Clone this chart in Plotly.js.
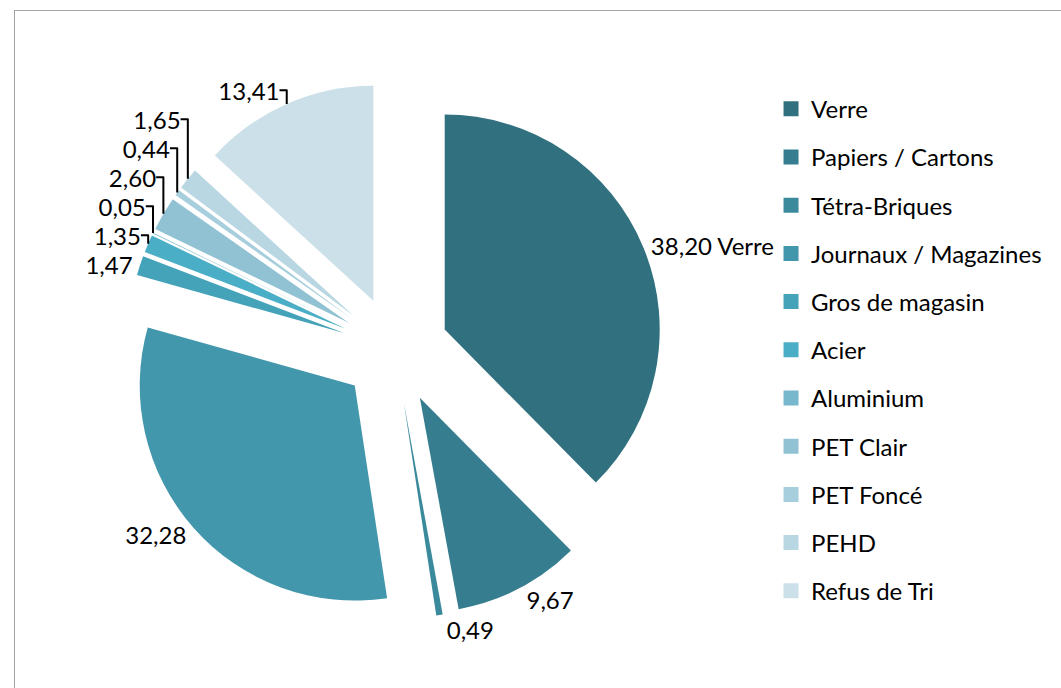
<!DOCTYPE html>
<html>
<head>
<meta charset="utf-8">
<script src="https://cdn.plot.ly/plotly-3.0.1.min.js"></script>
<style>
  html, body { margin: 0; padding: 0; background: #ffffff; }
  #wrap { position: relative; width: 1061px; height: 688px; overflow: hidden; }
  #frame { position: absolute; left: 14px; top: 10px; width: 1100px; height: 700px;
           border: 1.5px solid #A3A3A3; box-sizing: border-box; }
  #chart { position: absolute; left: 0; top: 0; width: 1061px; height: 688px; }
</style>
</head>
<body>
<div id="wrap">
  <div id="frame"></div>
  <div id="chart"></div>
</div>
<script>
// ---- data ----
const categories = ["Verre", "Papiers / Cartons", "Tétra-Briques", "Journaux / Magazines",
  "Gros de magasin", "Acier", "Aluminium", "PET Clair", "PET Foncé", "PEHD", "Refus de Tri"];
const values = [38.20, 9.67, 0.49, 32.28, 1.47, 1.35, 0.05, 2.60, 0.44, 1.65, 13.41];
const colors = ["#31717F", "#367E8F", "#3B8A9C", "#4297AC", "#45A3B9", "#4AAEC6",
  "#77B8CC", "#91C2D3", "#A7CEDC", "#B8D7E2", "#CBE0E8"];
const labelTemplates = categories.map((c, i) => i === 0 ? "%{value:.2f} %{label}" : "%{value:.2f}");

const FONT = "Lato, 'Open Sans', sans-serif";

const pie = {
  type: "pie",
  labels: categories,
  values: values,
  sort: false,
  direction: "clockwise",
  rotation: 0,
  pull: categories.map(() => 0.25),
  marker: { colors: colors, line: { width: 0 } },
  texttemplate: labelTemplates,
  textposition: "outside",
  outsidetextfont: { family: FONT, size: 24, color: "#000000" },
  hoverinfo: "label+value",
  showlegend: false,
  automargin: false,
  domain: { x: [0.11899, 0.62559], y: [0.10066, 0.88190] }
};

// legend entries (one per category, no plotted points)
const legendTraces = categories.map((c, i) => ({
  type: "scatter",
  mode: "markers",
  x: [null], y: [null],
  name: c,
  legendgroup: "g" + i,
  marker: { symbol: "square", size: 15, color: colors[i] },
  hoverinfo: "skip",
  showlegend: true
}));

const layout = {
  width: 1061, height: 688,
  margin: { l: 0, r: 0, t: 0, b: 0 },
  paper_bgcolor: "rgba(0,0,0,0)",
  plot_bgcolor: "rgba(0,0,0,0)",
  separators: ", ",
  font: { family: FONT, size: 24, color: "#000000" },
  xaxis: { visible: false },
  yaxis: { visible: false },
  showlegend: true,
  legend: {
    x: 0.7267, xanchor: "left",
    y: 0.874, yanchor: "top",
    traceorder: "grouped",
    tracegroupgap: 14,
    font: { family: FONT, size: 24, color: "#000000" },
    bgcolor: "rgba(0,0,0,0)",
    itemclick: false, itemdoubleclick: false
  }
};

Plotly.newPlot("chart", [pie].concat(legendTraces), layout, { displayModeBar: false, staticPlot: true });
</script>
</body>
</html>
